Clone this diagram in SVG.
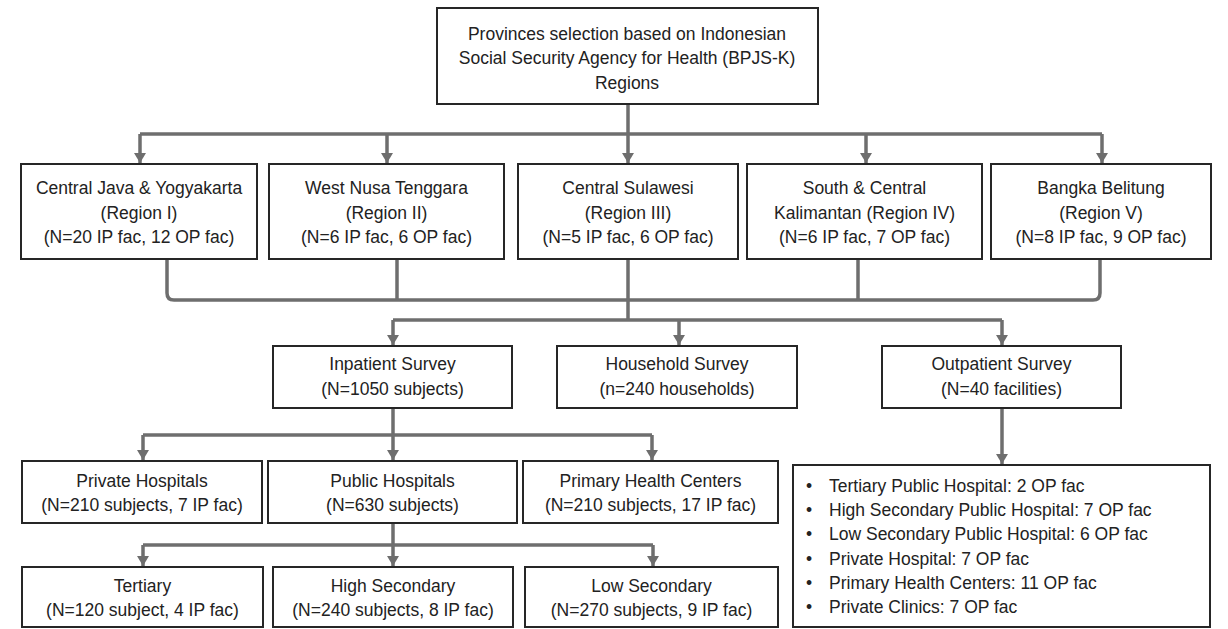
<svg xmlns="http://www.w3.org/2000/svg" width="1228" height="629" viewBox="0 0 1228 629">
<style>
.box{fill:#fff;stroke:#262626;stroke-width:2}
.t{font-family:"Liberation Sans",Arial,sans-serif;font-size:17.5px;fill:#222;text-anchor:middle}
.l{font-family:"Liberation Sans",Arial,sans-serif;font-size:17.5px;fill:#222}
.c{fill:none;stroke:#6e6e6e;stroke-width:3.5;stroke-linejoin:round}
</style>
<defs>
<marker id="ah" markerUnits="userSpaceOnUse" markerWidth="11" markerHeight="13" viewBox="0 0 11 13" refX="10" refY="6.5" orient="auto">
<path d="M0,0.5 L10,6.5 L0,12.5 Z" fill="#6e6e6e"/>
</marker>
</defs>
<rect width="1228" height="629" fill="#fff"/>

<g id="connectors">
<path class="c" d="M628,104 V134"/>
<path class="c" d="M140,134 H1102"/>
<path class="c" d="M140,134 V163" marker-end="url(#ah)"/>
<path class="c" d="M387,134 V163" marker-end="url(#ah)"/>
<path class="c" d="M628,134 V163" marker-end="url(#ah)"/>
<path class="c" d="M866,134 V163" marker-end="url(#ah)"/>
<path class="c" d="M1102,134 V163" marker-end="url(#ah)"/>
<path class="c" d="M167,260 V293 Q167,300 174,300 H1093 Q1100,300 1100,293 V260"/>
<path class="c" d="M397,260 V300"/>
<path class="c" d="M858,260 V300"/>
<path class="c" d="M628,260 V320"/>
<path class="c" d="M393,320 H1002"/>
<path class="c" d="M393,320 V345" marker-end="url(#ah)"/>
<path class="c" d="M679,320 V345" marker-end="url(#ah)"/>
<path class="c" d="M1002,320 V345" marker-end="url(#ah)"/>
<path class="c" d="M393,408 V435"/>
<path class="c" d="M143,435 H652"/>
<path class="c" d="M143,435 V460" marker-end="url(#ah)"/>
<path class="c" d="M393,435 V460" marker-end="url(#ah)"/>
<path class="c" d="M652,435 V460" marker-end="url(#ah)"/>
<path class="c" d="M393,523 V545"/>
<path class="c" d="M143,545 H653"/>
<path class="c" d="M143,545 V566" marker-end="url(#ah)"/>
<path class="c" d="M393,545 V566" marker-end="url(#ah)"/>
<path class="c" d="M653,545 V566" marker-end="url(#ah)"/>
<path class="c" d="M1002,408 V464" marker-end="url(#ah)"/>
</g>

<g id="top">
<rect class="box" x="437" y="8" width="381" height="96"/>
<text class="t" x="627" y="39.5">Provinces selection based on Indonesian</text>
<text class="t" x="627" y="64">Social Security Agency for Health (BPJS-K)</text>
<text class="t" x="627" y="88.5">Regions</text>
</g>

<g id="region1">
<rect class="box" x="21" y="164" width="236" height="95"/>
<text class="t" x="139" y="194">Central Java &amp; Yogyakarta</text>
<text class="t" x="139" y="219">(Region I)</text>
<text class="t" x="139" y="243">(N=20 IP fac, 12 OP fac)</text>
</g>
<g id="region2">
<rect class="box" x="269" y="164" width="235" height="95"/>
<text class="t" x="386.5" y="194">West Nusa Tenggara</text>
<text class="t" x="386.5" y="219">(Region II)</text>
<text class="t" x="386.5" y="243">(N=6 IP fac, 6 OP fac)</text>
</g>
<g id="region3">
<rect class="box" x="518" y="164" width="220" height="95"/>
<text class="t" x="628" y="194">Central Sulawesi</text>
<text class="t" x="628" y="219">(Region III)</text>
<text class="t" x="628" y="243">(N=5 IP fac, 6 OP fac)</text>
</g>
<g id="region4">
<rect class="box" x="747" y="164" width="235" height="95"/>
<text class="t" x="864.5" y="194">South &amp; Central</text>
<text class="t" x="864.5" y="219">Kalimantan (Region IV)</text>
<text class="t" x="864.5" y="243">(N=6 IP fac, 7 OP fac)</text>
</g>
<g id="region5">
<rect class="box" x="991" y="164" width="220" height="95"/>
<text class="t" x="1101" y="194">Bangka Belitung</text>
<text class="t" x="1101" y="219">(Region V)</text>
<text class="t" x="1101" y="243">(N=8 IP fac, 9 OP fac)</text>
</g>

<g id="inpatient">
<rect class="box" x="273" y="346" width="239" height="62"/>
<text class="t" x="392.5" y="370">Inpatient Survey</text>
<text class="t" x="392.5" y="395">(N=1050 subjects)</text>
</g>
<g id="household">
<rect class="box" x="557" y="346" width="240" height="62"/>
<text class="t" x="677" y="370">Household Survey</text>
<text class="t" x="677" y="395">(n=240 households)</text>
</g>
<g id="outpatient">
<rect class="box" x="882" y="346" width="239" height="62"/>
<text class="t" x="1001.5" y="370">Outpatient Survey</text>
<text class="t" x="1001.5" y="395">(N=40 facilities)</text>
</g>

<g id="private">
<rect class="box" x="22" y="461" width="240" height="62"/>
<text class="t" x="142" y="487">Private Hospitals</text>
<text class="t" x="142" y="511">(N=210 subjects, 7 IP fac)</text>
</g>
<g id="public">
<rect class="box" x="268" y="461" width="249" height="62"/>
<text class="t" x="392.5" y="487">Public Hospitals</text>
<text class="t" x="392.5" y="511">(N=630 subjects)</text>
</g>
<g id="phc">
<rect class="box" x="523" y="461" width="255" height="62"/>
<text class="t" x="650.5" y="487">Primary Health Centers</text>
<text class="t" x="650.5" y="511">(N=210 subjects, 17 IP fac)</text>
</g>

<g id="tertiary">
<rect class="box" x="22" y="567" width="241" height="60"/>
<text class="t" x="142.5" y="592">Tertiary</text>
<text class="t" x="142.5" y="616">(N=120 subject, 4 IP fac)</text>
</g>
<g id="highsec">
<rect class="box" x="273" y="567" width="240" height="60"/>
<text class="t" x="393" y="592">High Secondary</text>
<text class="t" x="393" y="616">(N=240 subjects, 8 IP fac)</text>
</g>
<g id="lowsec">
<rect class="box" x="525" y="567" width="253" height="60"/>
<text class="t" x="651.5" y="592">Low Secondary</text>
<text class="t" x="651.5" y="616">(N=270 subjects, 9 IP fac)</text>
</g>

<g id="oplist">
<rect class="box" x="793" y="465" width="417" height="162"/>
<g class="l">
<text x="806" y="492">•</text><text x="829" y="492">Tertiary Public Hospital: 2 OP fac</text>
<text x="806" y="516">•</text><text x="829" y="516">High Secondary Public Hospital: 7 OP fac</text>
<text x="806" y="540">•</text><text x="829" y="540">Low Secondary Public Hospital: 6 OP fac</text>
<text x="806" y="565">•</text><text x="829" y="565">Private Hospital: 7 OP fac</text>
<text x="806" y="589">•</text><text x="829" y="589">Primary Health Centers: 11 OP fac</text>
<text x="806" y="613">•</text><text x="829" y="613">Private Clinics: 7 OP fac</text>
</g>
</g>
</svg>
